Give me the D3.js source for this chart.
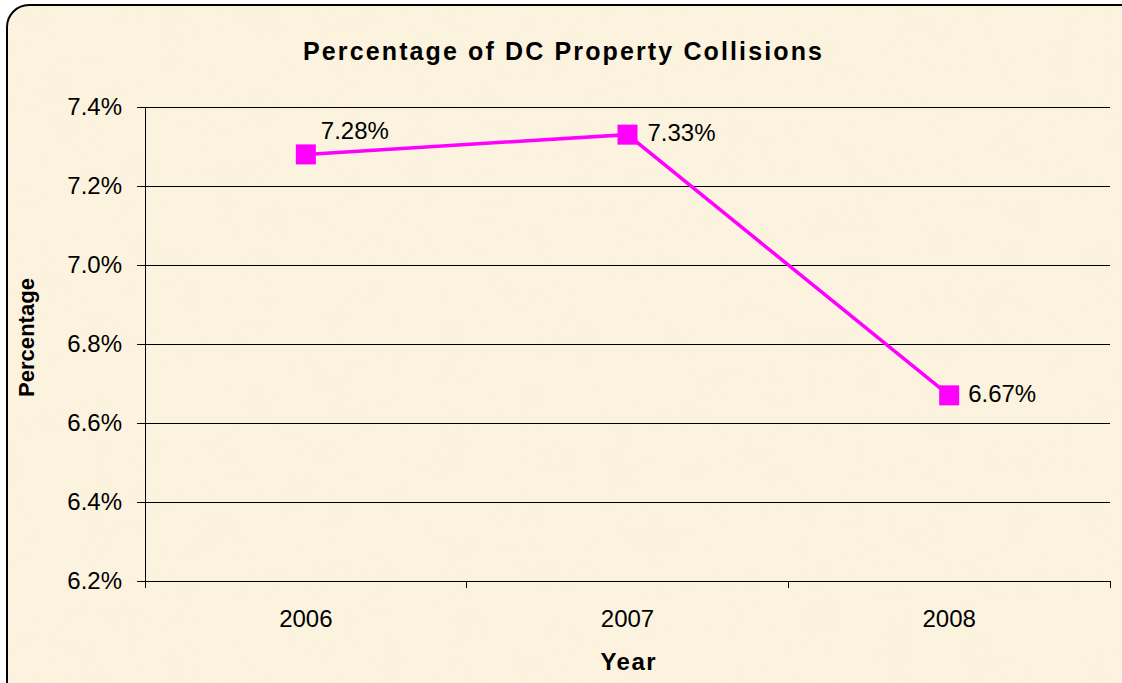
<!DOCTYPE html>
<html>
<head>
<meta charset="utf-8">
<script src="https://cdn.jsdelivr.net/npm/d3@7"></script>
<style>
  body { margin: 0; background: #fff; }
  svg { display: block; font-family: "Liberation Sans", Arial, sans-serif; }
</style>
</head>
<body>
<svg width="1122" height="683"></svg>
<script>
const years = ['2006', '2007', '2008'];
const values = [7.28, 7.33, 6.67];
const labels = ['7.28%', '7.33%', '6.67%'];
const yTicks = [6.2, 6.4, 6.6, 6.8, 7.0, 7.2, 7.4];

const svg = d3.select('svg');
const margin = { left: 145, right: 1110, top: 107, bottom: 581 };

// parchment-ish background
const defs = svg.append('defs');
const f = defs.append('filter').attr('id', 'paper').attr('x', 0).attr('y', 0).attr('width', '100%').attr('height', '100%');
f.append('feTurbulence').attr('type', 'fractalNoise').attr('baseFrequency', 0.025).attr('numOctaves', 3).attr('seed', 4).attr('result', 'n');
f.append('feColorMatrix').attr('in', 'n').attr('type', 'matrix')
  .attr('values', '0 0 0 0 0.96  0 0 0 0 0.90  0 0 0 0 0.76  0 0 0 0.4 0').attr('result', 'c');
f.append('feComposite').attr('in', 'c').attr('in2', 'SourceGraphic').attr('operator', 'in').attr('result', 'm');
f.append('feMerge').selectAll('feMergeNode').data(['SourceGraphic', 'm']).enter()
  .append('feMergeNode').attr('in', d => d);

svg.append('rect')
  .attr('x', 7).attr('y', 5).attr('width', 1140).attr('height', 700)
  .attr('rx', 22).attr('ry', 22)
  .attr('fill', '#fcf3de')
  .attr('filter', 'url(#paper)');
svg.append('rect')
  .attr('x', 7).attr('y', 5).attr('width', 1140).attr('height', 700)
  .attr('rx', 22).attr('ry', 22)
  .attr('fill', 'none')
  .attr('stroke', '#000').attr('stroke-width', 2);

const x = d3.scaleBand().domain(years).range([margin.left, margin.right]);
const y = d3.scaleLinear().domain([6.2, 7.4]).range([margin.bottom, margin.top]);

// gridlines
svg.append('g').selectAll('line').data(yTicks.slice(1)).enter().append('line')
  .attr('x1', margin.left).attr('x2', margin.right)
  .attr('y1', d => y(d)).attr('y2', d => y(d))
  .attr('stroke', '#000').attr('stroke-width', 1).attr('shape-rendering', 'crispEdges');

// y axis
const yAxis = svg.append('g')
  .attr('transform', `translate(${margin.left},0)`)
  .call(d3.axisLeft(y).tickValues(yTicks).tickFormat(d => d.toFixed(1) + '%').tickSize(8).tickPadding(15).tickSizeOuter(0));
yAxis.attr('font-size', null).attr('font-family', null);
yAxis.selectAll('text').style('font-size', '24px').attr('fill', '#000').attr('dy', '0.33em');
yAxis.selectAll('line, path').attr('stroke', '#000').attr('shape-rendering', 'crispEdges');

// x axis
const xAxisG = svg.append('g').attr('transform', `translate(0,${margin.bottom})`);
xAxisG.append('line').attr('x1', margin.left).attr('x2', margin.right)
  .attr('stroke', '#000').attr('shape-rendering', 'crispEdges');
const bounds = years.map(d => x(d)).concat([margin.right]);
xAxisG.selectAll('.tk').data(bounds).enter().append('line')
  .attr('x1', d => d).attr('x2', d => d).attr('y1', 0).attr('y2', 7)
  .attr('stroke', '#000').attr('shape-rendering', 'crispEdges');
xAxisG.selectAll('text').data(years).enter().append('text')
  .attr('x', d => x(d) + x.bandwidth() / 2).attr('y', 46)
  .attr('text-anchor', 'middle').style('font-size', '24px').text(d => d);

// line + markers
const cx = (d, i) => x(years[i]) + x.bandwidth() / 2;
svg.append('path').datum(values)
  .attr('d', d3.line().x(cx).y(d => y(d)))
  .attr('fill', 'none').attr('stroke', '#ff00ff').attr('stroke-width', 3.5);
svg.selectAll('.mk').data(values).enter().append('rect')
  .attr('x', (d, i) => cx(d, i) - 10).attr('y', d => y(d) - 10)
  .attr('width', 20).attr('height', 20).attr('fill', '#ff00ff');

// data labels
const lblOff = [[15, -15], [20, 6], [19, 7]];
svg.selectAll('.lbl').data(values).enter().append('text')
  .attr('x', (d, i) => cx(d, i) + lblOff[i][0])
  .attr('y', (d, i) => y(d) + lblOff[i][1])
  .style('font-size', '24px').text((d, i) => labels[i]);

// titles
svg.append('text').attr('x', 562.5).attr('y', 60).attr('text-anchor', 'middle')
  .style('font-size', '25px').attr('font-weight', 'bold')
  .attr('textLength', 519).attr('lengthAdjust', 'spacing')
  .text('Percentage of DC Property Collisions');
svg.append('text').attr('x', 628).attr('y', 670).attr('text-anchor', 'middle')
  .style('font-size', '24px').attr('font-weight', 'bold')
  .attr('textLength', 55).attr('lengthAdjust', 'spacing').text('Year');
svg.append('text').attr('transform', `translate(34,337.5) rotate(-90)`)
  .attr('text-anchor', 'middle').style('font-size', '22px').attr('font-weight', 'bold')
  .attr('textLength', 119).attr('lengthAdjust', 'spacing').text('Percentage');
</script>
</body>
</html>
